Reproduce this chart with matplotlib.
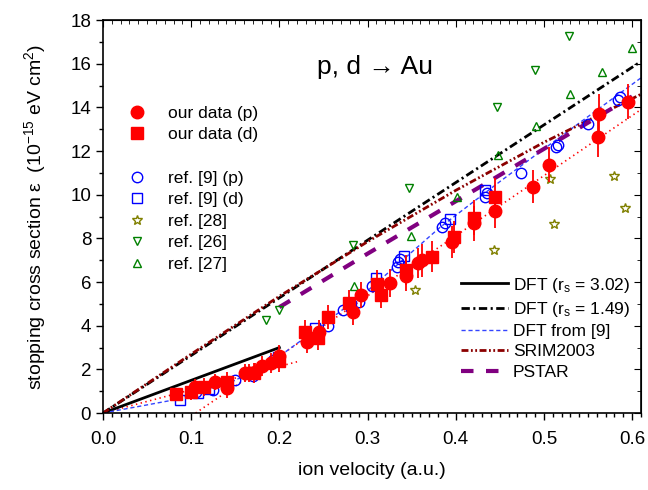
import matplotlib.pyplot as plt
from matplotlib.lines import Line2D
from matplotlib.ticker import MultipleLocator

plt.rcParams['font.family'] = ['Liberation Sans', 'DejaVu Sans']
plt.rcParams['mathtext.default'] = 'regular'
plt.rcParams['lines.scale_dashes'] = False

# our data (p)
v_p = [0.104, 0.127, 0.141, 0.161, 0.166, 0.172, 0.180, 0.190, 0.200, 0.231, 0.245, 0.283, 0.293,
       0.326, 0.344, 0.357, 0.362, 0.396, 0.421, 0.444, 0.488, 0.506, 0.561, 0.563, 0.595]
s_p = [1.19, 1.42, 1.15, 1.83, 1.83, 1.90, 2.16, 2.30, 2.60, 3.26, 3.70, 4.63, 5.40,
       5.97, 6.30, 6.88, 7.00, 7.84, 8.70, 9.26, 10.37, 11.38, 12.66, 13.70, 14.27]
e_p = [0.35, 0.35, 0.45, 0.4, 0.4, 0.4, 0.45, 0.45, 0.5, 0.5, 0.55, 0.6, 0.6,
       0.65, 0.7, 0.7, 0.75, 0.75, 0.8, 0.8, 0.75, 0.8, 0.95, 0.9, 0.8]

# our data (d)
v_d = [0.083, 0.100, 0.115, 0.141, 0.171, 0.200, 0.229, 0.244, 0.255, 0.279, 0.311, 0.315,
       0.344, 0.373, 0.398, 0.421, 0.444]
s_d = [0.87, 0.96, 1.20, 1.42, 1.85, 2.40, 3.70, 3.44, 4.40, 5.05, 5.90, 5.40,
       6.56, 7.16, 8.07, 8.94, 9.90]
e_d = [0.3, 0.35, 0.4, 0.45, 0.45, 0.5, 0.55, 0.55, 0.55, 0.6, 0.65, 0.6,
       0.7, 0.7, 0.75, 0.8, 0.85]

# ref. [9] (p) and (d)
v_r9p = [0.105, 0.125, 0.150, 0.170, 0.193, 0.255, 0.272, 0.290, 0.305, 0.333, 0.335, 0.337,
         0.385, 0.388, 0.433, 0.435, 0.474, 0.514, 0.516, 0.550, 0.584, 0.586]
s_r9p = [0.95, 1.05, 1.50, 1.70, 2.43, 4.00, 4.70, 5.10, 5.80, 6.70, 6.90, 7.05,
         8.50, 8.70, 9.90, 10.10, 11.00, 12.20, 12.30, 13.25, 14.36, 14.50]
v_r9d = [0.087, 0.108, 0.120, 0.198, 0.240, 0.281, 0.310, 0.341, 0.394, 0.433]
s_r9d = [0.60, 0.92, 1.10, 2.55, 3.90, 4.90, 6.20, 7.20, 8.90, 10.20]

# ref. [28], [26], [27]
v_r28 = [0.354, 0.443, 0.507, 0.512, 0.579, 0.592]
s_r28 = [5.64, 7.47, 10.70, 8.67, 10.87, 9.40]
v_r26 = [0.185, 0.200, 0.283, 0.347, 0.447, 0.490, 0.529]
s_r26 = [4.27, 4.72, 7.70, 10.30, 14.00, 15.73, 17.25]
v_r27 = [0.285, 0.349, 0.402, 0.448, 0.491, 0.530, 0.566, 0.600]
s_r27 = [5.80, 8.10, 9.90, 11.80, 13.15, 14.60, 15.60, 16.70]

# theory curves
v_dft302 = [0.0, 0.2]
s_dft302 = [0.0, 3.0]
v_dft149 = [0.0, 0.61]
s_dft149 = [0.0, 16.1]
v_dft9 = [0.0, 0.08, 0.15, 0.20, 0.246, 0.30, 0.382, 0.45, 0.50, 0.61]
s_dft9 = [0.0, 0.6, 1.5, 2.6, 3.95, 5.6, 8.5, 10.6, 12.1, 15.35]
v_srim = [0.0, 0.1, 0.2, 0.3, 0.4, 0.5, 0.61]
s_srim = [0.0, 2.7, 5.35, 7.85, 10.2, 12.4, 14.6]
v_pstar = [0.2, 0.3, 0.4, 0.5, 0.6]
s_pstar = [4.85, 7.3, 9.7, 12.1, 14.5]

# fits to our data (red dotted)
v_fit1 = [0.0, 0.22]
s_fit1 = [0.0, 2.35]
v_fit2 = [0.105, 0.61]
s_fit2 = [0.0, 13.9]

fig = plt.figure(figsize=(6.48, 4.9), dpi=100)
ax = fig.add_axes([0.159, 0.157, 0.83, 0.802])

ax.plot(v_fit1, s_fit1, color='red', lw=1.2, dashes=(1, 2.5))
ax.plot(v_fit2, s_fit2, color='red', lw=1.2, dashes=(1, 2.5))
l1, = ax.plot(v_dft302, s_dft302, color='black', lw=2, label='DFT (r$_s$ = 3.02)')
l2, = ax.plot(v_dft149, s_dft149, color='black', lw=2, dashes=(6, 2.5, 1.5, 2.5),
              label='DFT (r$_s$ = 1.49)')
l3, = ax.plot(v_dft9, s_dft9, color='#3344ff', lw=1, dashes=(3, 2), label='DFT from [9]')
l4, = ax.plot(v_srim, s_srim, color='#8b0000', lw=2, dashes=(5, 1.8, 1.3, 1.8, 1.3, 1.8),
              label='SRIM2003')
l5, = ax.plot(v_pstar, s_pstar, color='#800080', lw=3, dashes=(9, 9), label='PSTAR')

h3, = ax.plot(v_r9p, s_r9p, 'o', ms=7.5, mfc='none', mec='#0000ff', mew=1, label='ref. [9] (p)')
h4, = ax.plot(v_r9d, s_r9d, 's', ms=7, mfc='none', mec='#0000ff', mew=1, label='ref. [9] (d)')
h5, = ax.plot(v_r28, s_r28, '*', ms=7, mfc='none', mec='#808000', mew=1, label='ref. [28]')
h6, = ax.plot(v_r26, s_r26, 'v', ms=6, mfc='none', mec='#008000', mew=1, label='ref. [26]')
h7, = ax.plot(v_r27, s_r27, '^', ms=6, mfc='none', mec='#008000', mew=1, label='ref. [27]')

ax.errorbar(v_d, s_d, yerr=e_d, fmt='none', ecolor='red', elinewidth=1.3)
ax.errorbar(v_p, s_p, yerr=e_p, fmt='none', ecolor='red', elinewidth=1.3)
h2, = ax.plot(v_d, s_d, 's', ms=8.5, color='red', label='our data (d)')
h1, = ax.plot(v_p, s_p, 'o', ms=9, color='red', label='our data (p)')

blank = Line2D([], [], linestyle='none', label=' ')
leg1 = ax.legend(handles=[h1, h2, blank, h3, h4, h5, h6, h7], loc='upper left',
                 bbox_to_anchor=(0.03, 0.782), frameon=False, fontsize=12.5,
                 borderpad=0, borderaxespad=0, labelspacing=0.37, handletextpad=0.8)
ax.add_artist(leg1)
ax.legend(handles=[l1, l2, l3, l4, l5], loc='upper left', bbox_to_anchor=(0.665, 0.35),
          frameon=False, fontsize=12.5, borderpad=0, borderaxespad=0, labelspacing=0.3,
          handlelength=2.7, handletextpad=0.3)

ax.text(0.308, 15.85, 'p, d \u2192 Au', fontsize=19, ha='center', va='center')

ax.set_xlim(0, 0.61)
ax.set_ylim(0, 18)
ax.xaxis.set_major_locator(MultipleLocator(0.1))
ax.xaxis.set_minor_locator(MultipleLocator(0.01))
ax.yaxis.set_major_locator(MultipleLocator(2))
ax.yaxis.set_minor_locator(MultipleLocator(1))
ax.tick_params(which='both', direction='out', labelsize=13.5, width=1)
ax.tick_params(which='major', length=5)
ax.tick_params(which='minor', length=3)
ax.tick_params(axis='x', pad=8)

top = ax.secondary_xaxis('top')
top.xaxis.set_major_locator(MultipleLocator(0.1))
top.xaxis.set_minor_locator(MultipleLocator(0.01))
top.tick_params(which='both', direction='in', labeltop=False)
top.tick_params(which='major', length=5)
top.tick_params(which='minor', length=3)
right = ax.secondary_yaxis('right')
right.yaxis.set_major_locator(MultipleLocator(2))
right.yaxis.set_minor_locator(MultipleLocator(1))
right.tick_params(which='both', direction='in', labelright=False)
right.tick_params(which='major', length=5)
right.tick_params(which='minor', length=3)

for sp in ax.spines.values():
    sp.set_linewidth(1.2)

ax.set_xlabel('ion velocity (a.u.)', fontsize=14, labelpad=10)
ax.set_ylabel('stopping cross section \u03b5  (10$^{-15}$ eV cm$^2$)', fontsize=14, labelpad=16)

plt.savefig('out.png', dpi=100)
